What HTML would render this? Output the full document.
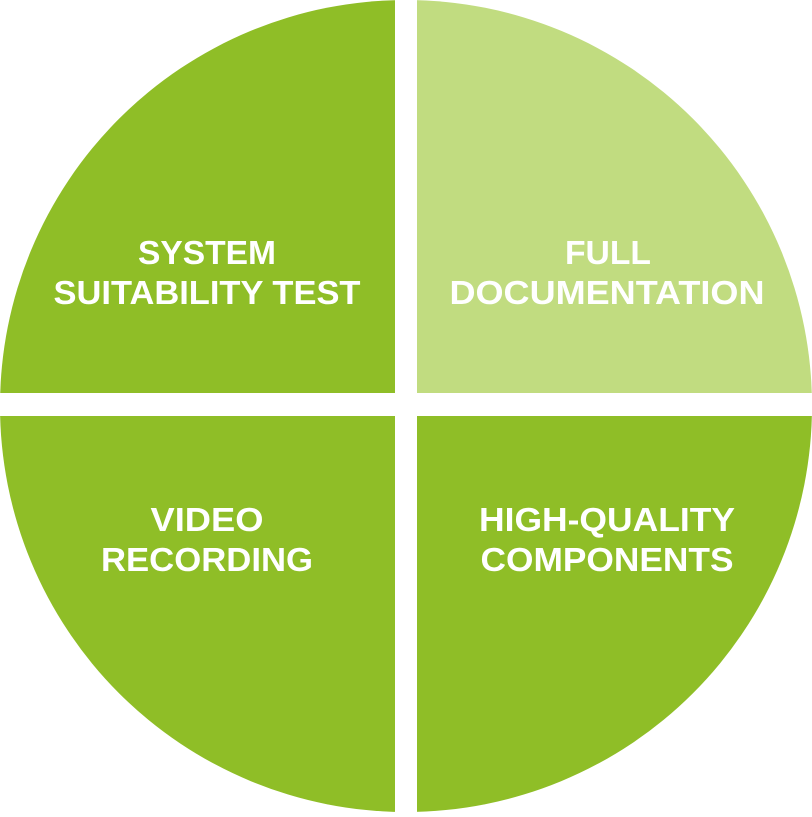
<!DOCTYPE html>
<html><head><style>html,body{margin:0;padding:0;background:#fff}</style></head><body>
<svg width="812" height="812" viewBox="0 0 812 812" xmlns="http://www.w3.org/2000/svg">
<defs><clipPath id="c"><circle cx="406" cy="406" r="406"/></clipPath></defs>
<g clip-path="url(#c)">
<rect x="0" y="0" width="395" height="393" fill="#8fbe27"/>
<rect x="417" y="0" width="395" height="393" fill="#c1dc80"/>
<rect x="0" y="416" width="395" height="396" fill="#8fbe27"/>
<rect x="417" y="416" width="395" height="396" fill="#8fbe27"/>
</g>
<g fill="#fff" font-family="Liberation Sans, sans-serif" font-weight="bold" font-size="33" text-anchor="middle">
<text x="207" y="264" textLength="138" lengthAdjust="spacingAndGlyphs">SYSTEM</text>
<text x="207" y="304" textLength="307" lengthAdjust="spacingAndGlyphs">SUITABILITY TEST</text>
<text x="608" y="264" textLength="86" lengthAdjust="spacingAndGlyphs">FULL</text>
<text x="607" y="304" textLength="315" lengthAdjust="spacingAndGlyphs">DOCUMENTATION</text>
<text x="207" y="531" textLength="113" lengthAdjust="spacingAndGlyphs">VIDEO</text>
<text x="207" y="571" textLength="212" lengthAdjust="spacingAndGlyphs">RECORDING</text>
<text x="607" y="531" textLength="256" lengthAdjust="spacingAndGlyphs">HIGH-QUALITY</text>
<text x="607" y="571" textLength="253" lengthAdjust="spacingAndGlyphs">COMPONENTS</text>
</g>
</svg>
</body></html>
